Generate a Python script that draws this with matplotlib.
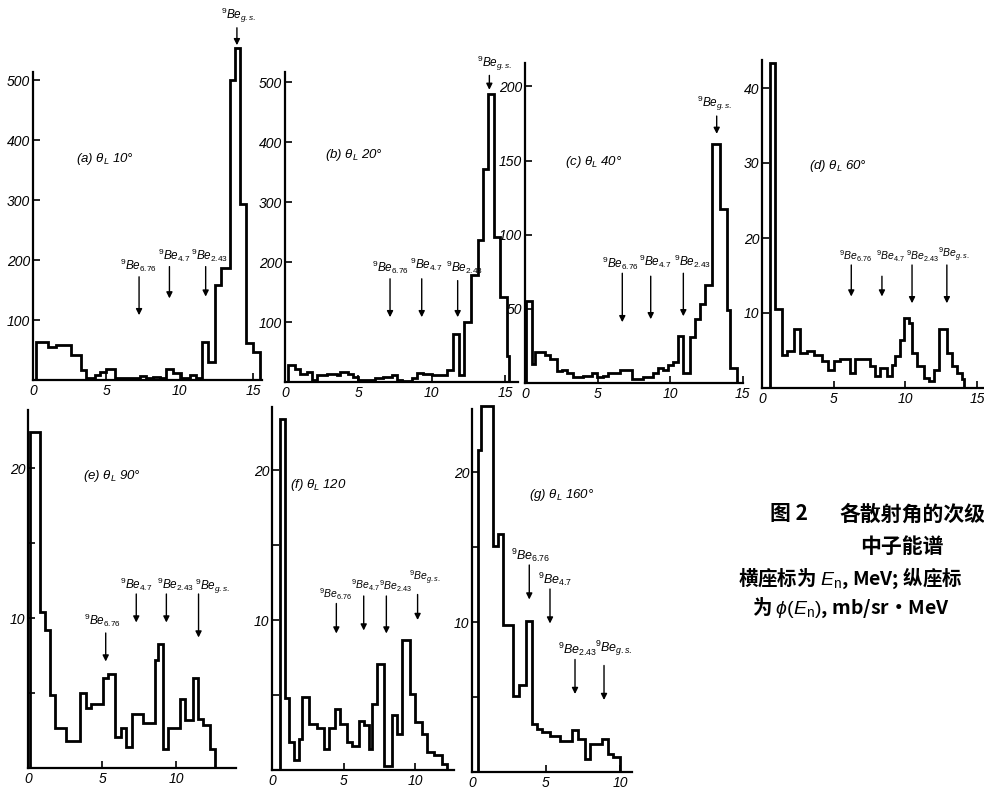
import matplotlib
matplotlib.use('Agg')
import matplotlib.pyplot as plt

plt.rcParams['font.family'] = ['Liberation Sans', 'DejaVu Sans']
plt.rcParams['mathtext.fontset'] = 'custom'
plt.rcParams['mathtext.rm'] = 'Liberation Sans'
plt.rcParams['mathtext.it'] = 'Liberation Sans:italic'
plt.rcParams['mathtext.bf'] = 'Liberation Sans:bold'
plt.rcParams['mathtext.default'] = 'it'

W, H = 984, 790
fig = plt.figure(figsize=(9.84, 7.90), dpi=100)

# ---------------- data (E_n in MeV, phi in mb/sr.MeV) ----------------
a_edges = [0.23, 1.02, 1.59, 2.61, 3.3, 3.64, 4.2, 4.55, 5.0, 5.57, 7.27, 7.73, 8.18, 8.64,
           9.09, 9.55, 10.1, 10.7, 11.1, 11.5, 11.9, 12.4, 12.8, 13.4, 13.75, 14.1, 14.5, 15.0, 15.45]
a_values = [64, 55, 58, 42, 17, 3, 8, 14, 19, 3, 6, 3, 5, 3, 19, 11, 4, 8, 4, 64, 30, 158, 186,
            500, 553, 294, 61, 47]

b_edges = [0.23, 0.68, 1.02, 1.48, 1.82, 2.16, 2.84, 3.52, 3.75, 4.32, 4.66, 5.0, 6.14, 6.7, 7.27,
           7.61, 7.95, 8.64, 8.98, 9.43, 10.0, 11.02, 11.43, 11.89, 12.2, 12.68, 13.18, 13.52,
           13.86, 14.25, 14.66, 15.11, 15.3]
b_values = [28, 22, 14, 17, 3, 11, 14, 11, 17, 14, 8, 3, 6, 8, 11, 4, 1, 7, 15, 14, 11, 20, 80,
            11, 100, 178, 236, 355, 480, 242, 142, 44]

c_edges = [0.07, 0.46, 0.69, 1.38, 1.72, 2.18, 2.53, 2.87, 3.33, 4.02, 4.6, 4.94, 5.4, 5.75, 6.55,
           7.36, 8.16, 8.85, 9.2, 9.54, 9.89, 10.23, 10.57, 10.92, 11.38, 11.72, 12.07, 12.41,
           12.87, 13.45, 13.91, 14.14, 14.6]
c_values = [55, 13, 21, 19, 16, 8, 9, 7, 4, 5, 7, 4, 5, 7, 9, 3, 4, 7, 10, 9, 12, 14, 32, 7, 31,
            43, 53, 66, 161, 117, 49, 10]

d_edges = [0.58, 0.93, 1.4, 1.74, 2.2, 2.67, 3.14, 3.6, 4.19, 4.58, 5.0, 5.47, 6.16, 6.5, 7.56,
           7.9, 8.26, 8.72, 9.07, 9.3, 9.6, 9.93, 10.23, 10.47, 10.81, 11.28, 11.63, 11.98, 12.33,
           12.9, 13.26, 13.6, 13.95, 14.07]
d_values = [43.4, 10.5, 4.4, 4.9, 7.8, 4.7, 4.9, 4.4, 3.6, 2.4, 3.6, 3.8, 2.0, 3.8, 2.9, 1.6, 2.7,
            1.6, 3.1, 4.2, 6.4, 9.3, 8.7, 4.7, 2.9, 1.3, 0.9, 2.4, 7.8, 4.7, 2.9, 2.0, 1.2]

e_edges = [0.11, 0.83, 1.12, 1.46, 1.8, 2.58, 3.48, 3.89, 4.27, 5.06, 5.39, 5.84, 6.29, 6.58, 7.03,
           7.75, 8.54, 8.76, 9.1, 9.44, 10.22, 10.56, 11.12, 11.46, 11.8, 12.25, 12.58]
e_values = [22.4, 10.4, 9.2, 4.9, 2.7, 1.8, 5.0, 4.0, 4.3, 6.0, 6.3, 2.1, 2.7, 1.4, 3.6, 3.0, 7.2,
            8.3, 1.3, 2.7, 4.6, 3.2, 6.0, 3.3, 2.9, 1.3]

f_edges = [0.53, 0.93, 1.16, 1.51, 1.86, 2.09, 2.56, 3.14, 3.6, 3.95, 4.42, 4.77, 5.23, 5.58, 6.05,
           6.4, 6.74, 6.98, 7.33, 7.79, 8.37, 8.72, 9.07, 9.65, 10.0, 10.47, 10.81, 11.28, 11.86,
           12.21]
f_values = [23.4, 4.8, 1.9, 0.7, 2.1, 4.9, 3.1, 2.8, 1.4, 2.8, 4.1, 3.1, 1.9, 1.6, 3.3, 3.0, 1.4,
            4.4, 7.1, 0.3, 3.7, 2.4, 8.7, 5.1, 3.2, 2.4, 1.2, 1.0, 0.4]

g_edges = [0.4, 0.6, 1.44, 1.78, 2.12, 2.79, 3.2, 3.65, 4.03, 4.37, 4.71, 5.27, 5.95, 6.73, 7.18,
           7.63, 7.97, 8.76, 9.21, 9.55, 10.0]
g_values = [21.5, 24.4, 15.1, 15.9, 9.8, 5.1, 5.8, 10.1, 3.2, 2.9, 2.7, 2.4, 2.1, 2.8, 2.2, 0.9,
            1.9, 2.2, 1.2, 1.0]

# level markers: (E_n of arrow, arrow tail, arrow tip, label centre E, label base) per 9Be level
levels = ['6.76', '4.7', '2.43', 'g.s.']
a_marks = [(7.23, 172, 108, 7.2, 176), (9.3, 189, 136, 9.6, 193), (11.77, 189, 139, 12.05, 193),
           (13.9, 587, 558, 14.0, 591)]
b_marks = [(7.16, 172, 108, 7.2, 176), (9.32, 172, 108, 9.6, 182), (11.77, 169, 108, 12.25, 176),
           (13.93, 511, 487, 14.3, 515)]
c_marks = [(6.71, 74, 41, 6.6, 75), (8.67, 72, 43, 9.0, 76), (10.92, 74, 45, 11.55, 76),
           (13.22, 180, 168, 13.1, 182)]
d_marks = [(6.23, 16.4, 12.2, 6.55, 16.6), (8.37, 14.9, 12.2, 8.95, 16.6),
           (10.47, 16.4, 11.3, 11.2, 16.6), (12.9, 16.4, 11.3, 13.4, 16.6)]
e_marks = [(5.24, 9.0, 7.1, 5.0, 9.3), (7.3, 11.6, 9.7, 7.3, 11.7), (9.33, 11.6, 9.7, 9.95, 11.7),
           (11.5, 11.6, 8.7, 12.45, 11.5)]
f_marks = [(4.49, 11.1, 9.1, 4.45, 11.2), (6.4, 11.6, 9.3, 6.5, 11.8), (7.98, 11.6, 9.1, 8.6, 11.7),
           (10.16, 11.7, 10.0, 10.65, 12.2)]
g_marks = [(3.87, 13.8, 11.5, 3.96, 13.9), (5.27, 12.2, 9.9, 5.65, 12.3), (6.96, 7.5, 5.2, 7.15, 7.6),
           (8.92, 7.1, 4.8, 9.6, 7.6)]

titles = ['(a)', '(b)', '(c)', '(d)', '(e)', '(f)', '(g)']
angles = ['10°', '20°', '40°', '60°', '90°', '120', '160°']

ITAL = dict(style='italic', fontsize=10)


def panel(x0, base, pxx, pxy, xmax, ymax, ytop, yticks, yminor, xticks,
          edges, values, marks, title, angle, tpos, lab_fs=8.5):
    ax = fig.add_axes([x0 / W, (H - base) / H, xmax * pxx / W, ymax * pxy / H])
    ax.set_xlim(0, xmax)
    ax.set_ylim(0, ymax)
    ax.patch.set_alpha(0)
    ax.spines['top'].set_visible(False)
    ax.spines['right'].set_visible(False)
    ax.spines['left'].set_bounds(0, ytop)
    ax.spines['left'].set_linewidth(1.6)
    ax.spines['bottom'].set_linewidth(1.6)
    ax.set_yticks(yticks)
    ax.set_yticklabels([str(t) for t in yticks], **ITAL)
    ax.set_yticks(yminor, minor=True)
    ax.set_xticks(xticks)
    ax.set_xticklabels([str(t) for t in xticks], **ITAL)
    ax.tick_params(axis='both', which='both', direction='in', length=5, width=1.2, pad=3)
    ax.tick_params(axis='y', pad=2)
    ax.stairs(values, edges, color='black', linewidth=2.0, clip_on=False)
    for (x, tail, tip, lx, ly), lev in zip(marks, levels):
        ax.annotate('', xy=(x, tip), xytext=(x, tail), annotation_clip=False,
                    arrowprops=dict(arrowstyle='-|>', color='black', lw=1.0,
                                    mutation_scale=9, shrinkA=0, shrinkB=0))
        ax.text(lx, ly, r'$^{9}Be_{%s}$' % lev, ha='center', va='bottom',
                fontsize=lab_fs, clip_on=False)
    ax.text(tpos[0], tpos[1], r'%s $\theta_L$ %s' % (title, angle), ha='left',
            va='center', style='italic', fontsize=9.5)
    return ax


panel(33, 380, 14.67, 0.6, 15.6, 560, 513, [100, 200, 300, 400, 500], [], [0, 5, 10, 15],
      a_edges, a_values, a_marks, titles[0], angles[0], (2.95, 369), lab_fs=8.5)
panel(285, 382, 14.67, 0.6, 15.9, 520, 517, [100, 200, 300, 400, 500], [], [0, 5, 10, 15],
      b_edges, b_values, b_marks, titles[1], angles[1], (2.7, 378), lab_fs=8.5)
panel(525, 383, 14.5, 1.483, 15.0, 216, 216, [50, 100, 150, 200], [], [0, 5, 10, 15],
      c_edges, c_values, c_marks, titles[2], angles[2], (2.76, 149), lab_fs=8.5)
panel(762, 388, 14.33, 7.5, 15.4, 44, 43.8, [10, 20, 30, 40], [], [0, 5, 10, 15],
      d_edges, d_values, d_marks, titles[3], angles[3], (3.26, 29.6), lab_fs=7.5)
panel(28, 768, 14.83, 15, 14.05, 24.5, 23.9, [10, 20], [5, 15], [0, 5, 10],
      e_edges, e_values, e_marks, titles[4], angles[4], (3.7, 19.5), lab_fs=8.5)
panel(272, 770, 14.33, 15, 12.7, 24.5, 24.2, [10, 20], [5, 15], [0, 5, 10],
      f_edges, f_values, f_marks, titles[5], angles[5], (1.28, 19.0), lab_fs=7.5)
panel(472, 772, 14.8, 15, 10.8, 24.5, 24.2, [10, 20], [5, 15], [0, 5, 10],
      g_edges, g_values, g_marks, titles[6], angles[6], (3.85, 18.5), lab_fs=9)

CJK = ['Noto Sans CJK SC', 'DejaVu Sans']
fig.text(770 / W, 1 - 514 / H, '图 2', fontsize=15, fontweight='bold', family=CJK,
         ha='left', va='center')
fig.text(840 / W, 1 - 514 / H, '各散射角的次级', fontsize=15, fontweight='bold', family=CJK,
         ha='left', va='center')
fig.text(902 / W, 1 - 546 / H, '中子能谱', fontsize=15, fontweight='bold', family=CJK,
         ha='center', va='center')
fig.text(738 / W, 1 - 578 / H, r'横座标为 $E_\mathrm{n}$, MeV; 纵座标', fontsize=14,
         fontweight='bold', family=CJK, ha='left', va='center')
fig.text(752 / W, 1 - 608 / H, r'为 $\phi(E_\mathrm{n})$, mb/sr·MeV', fontsize=14,
         fontweight='bold', family=CJK, ha='left', va='center')

fig.savefig('out.png', dpi=100)
